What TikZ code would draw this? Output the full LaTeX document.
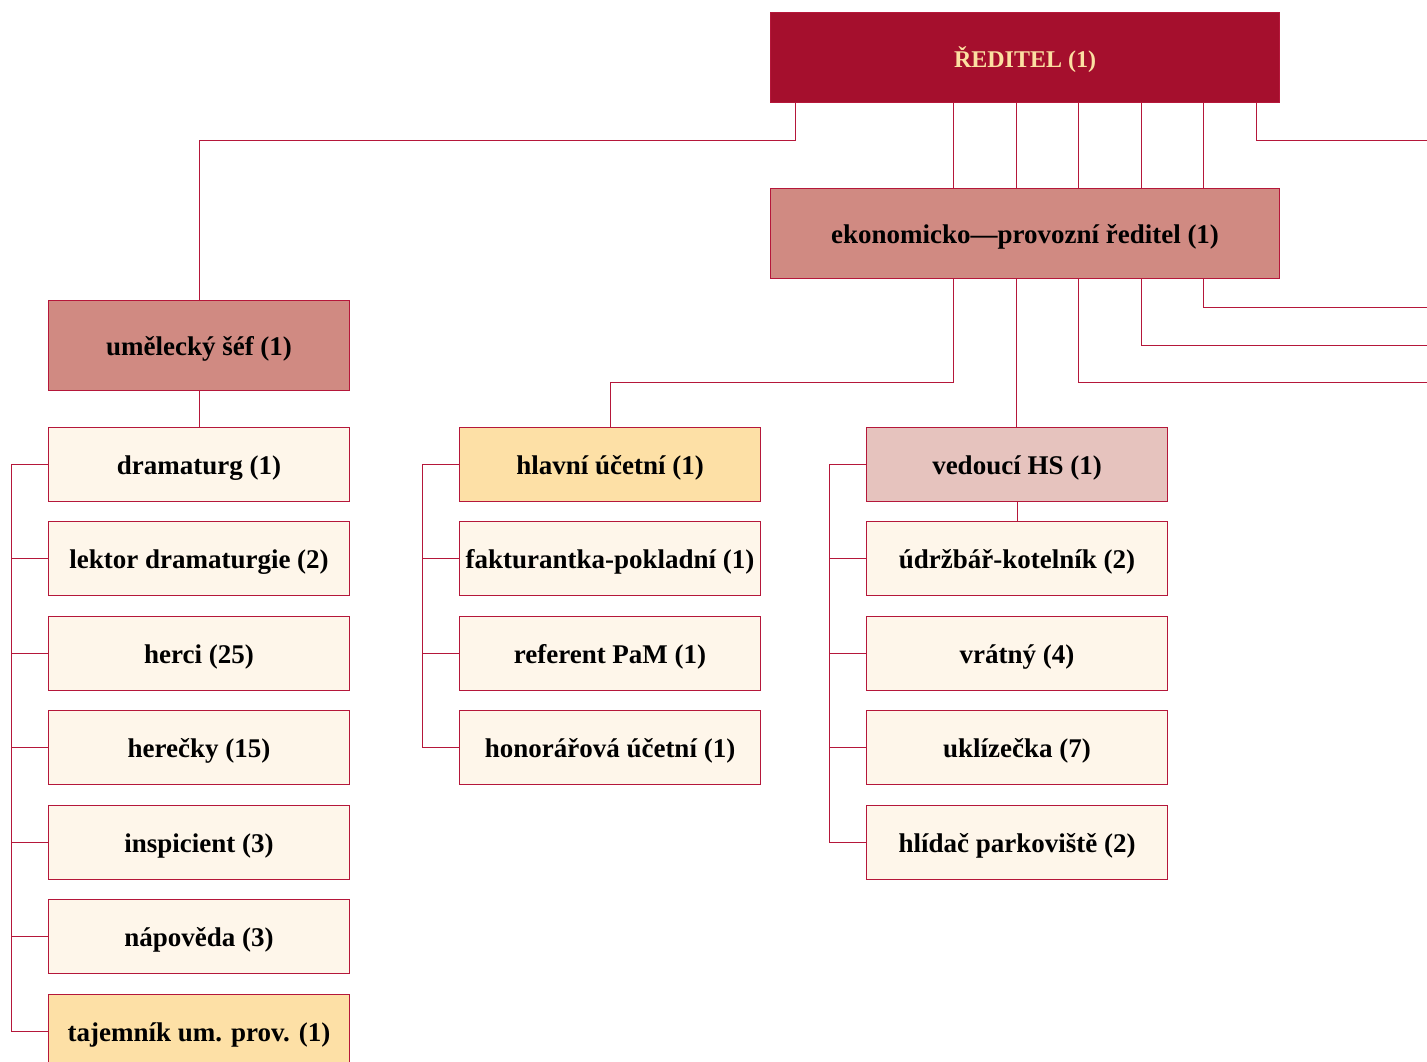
\documentclass[tikz,border=0pt]{standalone}
\usepackage{fontspec}
\setmainfont{Liberation Serif}
\usetikzlibrary{positioning}
\definecolor{TheatreRed}{HTML}{A50F2D}
\definecolor{TheatreLine}{HTML}{B5173A}
\definecolor{TheatreGold}{HTML}{FCE0A2}
\definecolor{HeadRose}{HTML}{D08A82}
\definecolor{PaleRose}{HTML}{E6C3BE}
\definecolor{SubYellow}{HTML}{FDE0A6}
\definecolor{StaffCream}{HTML}{FEF6EA}

\begin{document}
\begin{tikzpicture}[
      x=1pt, y=1pt, node distance=19.5pt,
      box/.style={draw=TheatreLine, line width=1pt, minimum width=301pt, minimum height=74pt, inner sep=0pt,
                  text height=20pt, text depth=0pt, font=\fontsize{27}{30}\selectfont\bfseries},
      topbox/.style={box, minimum width=509pt, minimum height=90pt, fill=TheatreRed, text=TheatreGold,
                  font=\fontsize{24}{28}\selectfont\bfseries},
      headbox/.style={box, fill=HeadRose},
      wideheadbox/.style={headbox, minimum width=509pt, minimum height=90pt},
      leadbox/.style={box, fill=SubYellow},
      hsbox/.style={box, fill=PaleRose},
      staff/.style={box, fill=StaffCream},
      conn/.style={draw=TheatreLine, line width=1pt}
  ]
      \useasboundingbox (0,0) rectangle (1427,-1062);

      % Management
      \node[topbox] (dir) at (1025,-57.5) {ŘEDITEL (1)};
      \node[wideheadbox] (eko) at (1025,-233) {ekonomicko—provozní ředitel (1)};
      \node[headbox, minimum height=90pt] (umel) at (199,-345) {umělecký šéf (1)};

      % Artistic section
      \node[staff] (dram) at (199,-464) {dramaturg (1)};
      \node[staff, below=of dram] (lekt) {lektor dramaturgie (2)};
      \node[staff, below=of lekt] (herci) {herci (25)};
      \node[staff, below=of herci] (herec) {herečky (15)};
      \node[staff, below=of herec] (insp) {inspicient (3)};
      \node[staff, below=of insp] (napo) {nápověda (3)};
      \node[leadbox, below=of napo] (taj) {tajemník um. prov. (1)};

      % Accounting
      \node[leadbox] (hlav) at (610,-464) {hlavní účetní (1)};
      \node[staff, below=of hlav] (fakt) {fakturantka-pokladní (1)};
      \node[staff, below=of fakt] (ref) {referent PaM (1)};
      \node[staff, below=of ref] (hono) {honorářová účetní (1)};

      % Building services
      \node[hsbox] (hs) at (1017,-464) {vedoucí HS (1)};
      \node[staff, below=of hs] (udrz) {údržbář-kotelník (2)};
      \node[staff, below=of udrz] (vrat) {vrátný (4)};
      \node[staff, below=of vrat] (ukli) {uklízečka (7)};
      \node[staff, below=of ukli] (hlid) {hlídač parkoviště (2)};

      % Exits to the right edge
      \coordinate (out1) at (1427,-141);
      \coordinate (out2) at (1427,-307);
      \coordinate (out3) at (1427,-345);
      \coordinate (out4) at (1427,-382);

      % Connectors from the director
      \draw[conn] (dir.south -| 795,0) -- ++(0,-38) -| (umel);
      \foreach \x in {953,1016,1078,1141,1203}
        \draw[conn] (dir.south -| \x,0) -- (eko.north -| \x,0);
      \draw[conn] (dir.south -| 1256,0) |- (out1);

      % Connectors from the economic director
      \draw[conn] (eko.south -| 953,0) -- ++(0,-104) -| (hlav);
      \draw[conn] (eko.south -| 1016,0) -- (hs.north -| 1016,0);
      \draw[conn] (eko.south -| 1078,0) |- (out4);
      \draw[conn] (eko.south -| 1141,0) |- (out3);
      \draw[conn] (eko.south -| 1203,0) |- (out2);

      % Heads to first staff
      \draw[conn] (umel) -- (dram);
      \draw[conn] (hs.south -| 1017,0) -- (udrz);

      % Side brackets
      \draw[conn] (dram.west) -- ++(-37,0) |- (taj.west);
      \foreach \n in {lekt,herci,herec,insp,napo}
        \draw[conn] (\n.west) -- ++(-37,0);
      \draw[conn] (hlav.west) -- ++(-37,0) |- (hono.west);
      \foreach \n in {fakt,ref}
        \draw[conn] (\n.west) -- ++(-37,0);
      \draw[conn] (hs.west) -- ++(-37,0) |- (hlid.west);
      \foreach \n in {udrz,vrat,ukli}
        \draw[conn] (\n.west) -- ++(-37,0);
  \end{tikzpicture}
\end{document}
